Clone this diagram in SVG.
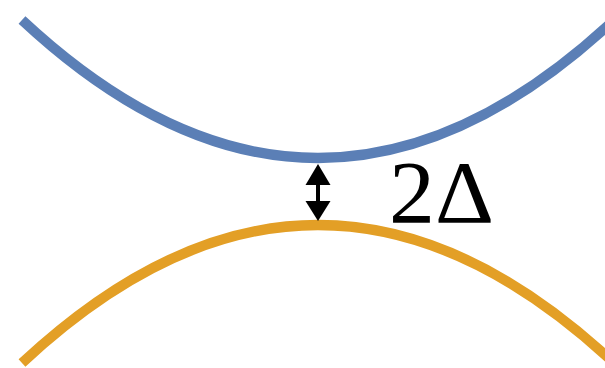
<svg xmlns="http://www.w3.org/2000/svg" width="605" height="368" viewBox="0 0 605 368">
<style>
.band{fill:none;stroke-width:10}
.lbl{font-family:"Liberation Serif","DejaVu Serif",serif;font-size:88px;fill:#000}
</style>
<g id="upper-band"><path class="band" stroke="#5b7fb6" d="M22,20 Q318,296 614,20"/></g>
<g id="lower-band"><path class="band" stroke="#e39f26" d="M22,363 Q318,87 614,363"/></g>
<g id="connectors">
<line x1="318" y1="183" x2="318" y2="203" stroke="#000" stroke-width="4"/>
<polygon points="318,164 330.5,185 305.5,185" fill="#000"/>
<polygon points="318,221 330.5,201 305.5,201" fill="#000"/>
</g>
<g id="label"><text class="lbl" x="389" y="222" textLength="105" lengthAdjust="spacingAndGlyphs">2Δ</text></g>
</svg>
